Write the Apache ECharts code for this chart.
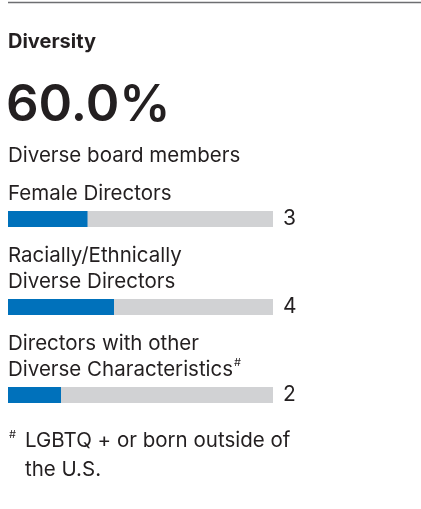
<!DOCTYPE html>
<html>
<head>
<meta charset="utf-8">
<script src="https://cdn.jsdelivr.net/npm/echarts@6/dist/echarts.min.js"></script>
<style>
  html, body { margin: 0; padding: 0; background: #fff; }
  #diversity-chart { width: 421px; height: 509px; }
</style>
</head>
<body>
<div id="diversity-chart"></div>
<script>
/************************** 董事会多元化 **************************/
var categories = [
    'Female Directors',
    'Racially/Ethnically\nDiverse Directors',
    'Directors with other\nDiverse Characteristics{sup|#}'
];
var counts = [3, 4, 2];
var boardSize = 10;
var headline = '60.0%';

var textColor = '#231f20';
var fontName = 'Inter';

chartDom = document.getElementById('diversity-chart');

optionDiversity = {
    animation: false,
    graphic: [{
        type: 'line',
        shape: { x1: 8, y1: 2.5, x2: 421, y2: 2.5 },
        style: { stroke: '#6d6e71', lineWidth: 1.5 }
    }],
    title: [
        {
            text: 'Diversity',
            left: 8, top: 31, padding: 0,
            textStyle: { fontFamily: fontName, fontSize: 20, fontWeight: 'bold', color: textColor, lineHeight: 22 }
        },
        {
            text: headline,
            left: 6, top: 79, padding: 0,
            textStyle: { fontFamily: fontName, fontSize: 51, fontWeight: 600, color: textColor, lineHeight: 54 }
        },
        {
            text: 'Diverse board members',
            left: 8, top: 144, padding: 0,
            textStyle: { fontFamily: fontName, fontSize: 20.5, fontWeight: 'normal', color: textColor, lineHeight: 24 }
        },
        {
            text: '#',
            left: 9, top: 428, padding: 0,
            textStyle: { fontFamily: fontName, fontSize: 11, fontWeight: 'normal', color: textColor, lineHeight: 14 }
        },
        {
            text: 'LGBTQ + or born outside of\nthe U.S.',
            left: 25, top: 426, padding: 0,
            textStyle: { fontFamily: fontName, fontSize: 20.5, fontWeight: 'normal', color: textColor, lineHeight: 29 }
        }
    ],
    grid: {
        left: 8,
        right: 148,
        top: 175,
        height: 264
    },
    xAxis: {
        type: 'value',
        min: 0,
        max: boardSize,
        show: false
    },
    yAxis: [
        {
            type: 'category',
            inverse: true,
            data: categories,
            axisLine: { show: false },
            axisTick: { show: false },
            axisLabel: {
                inside: true,
                margin: 0,
                align: 'left',
                verticalAlign: 'bottom',
                padding: [0, 0, 12, 0],
                fontFamily: fontName,
                fontSize: 20.5,
                lineHeight: 26,
                color: textColor,
                rich: {
                    sup: { fontFamily: fontName, fontSize: 11, color: textColor, verticalAlign: 'top', lineHeight: 26, padding: [0, 0, 8, 1] }
                }
            }
        },
        {
            type: 'category',
            inverse: true,
            position: 'right',
            data: counts,
            axisLine: { show: false },
            axisTick: { show: false },
            axisLabel: {
                margin: 10,
                fontFamily: fontName,
                fontSize: 21,
                color: textColor
            }
        }
    ],
    series: [{
        name: 'Directors',
        type: 'bar',
        data: counts,
        barWidth: 16,
        itemStyle: { color: '#0071bb' },
        showBackground: true,
        backgroundStyle: { color: '#d1d2d4' }
    }]
};

myDiversity = echarts.init(chartDom);
myDiversity.setOption(optionDiversity);
</script>
</body>
</html>
